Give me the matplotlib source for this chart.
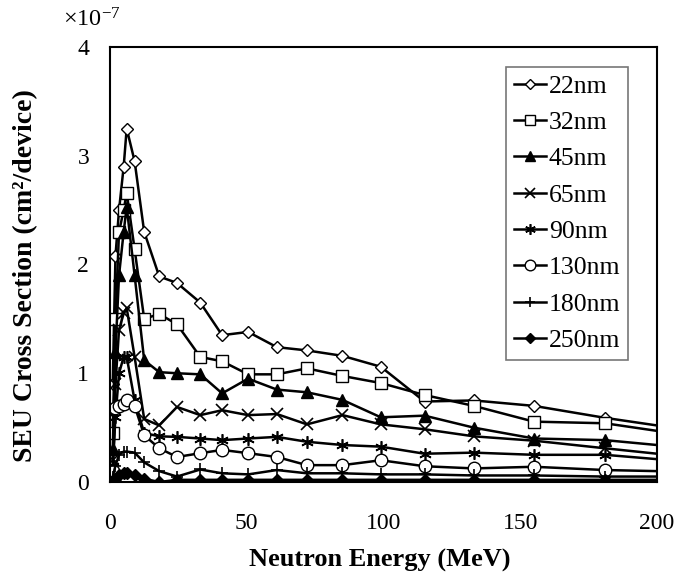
import matplotlib
matplotlib.use('Agg')
import matplotlib.pyplot as plt

plt.rcParams['font.family'] = ['Liberation Serif', 'DejaVu Serif']
plt.rcParams['mathtext.fontset'] = 'custom'
plt.rcParams['mathtext.rm'] = 'Liberation Serif'
plt.rcParams['mathtext.it'] = 'Liberation Serif:italic'
plt.rcParams['mathtext.bf'] = 'Liberation Serif:bold'

# Neutron energy (MeV)
energy = [1, 2, 3.3, 5, 6.1, 9, 12.5, 18, 24.5, 33, 41, 50.5, 61, 72, 85, 99,
          115, 133, 155, 181, 200]

# SEU cross section, units of 1e-7 cm^2/device
s22 = [0.9, 2.08, 2.5, 2.9, 3.25, 2.95, 2.30, 1.89, 1.83, 1.65, 1.35, 1.38, 1.24,
       1.21, 1.16, 1.06, 0.74, 0.75, 0.70, 0.59, 0.52]
s32 = [0.45, 1.5, 2.30, 2.5, 2.66, 2.14, 1.50, 1.545, 1.45, 1.15, 1.11, 0.99, 0.99,
       1.045, 0.975, 0.91, 0.80, 0.70, 0.555, 0.54, 0.47]
s45 = [0.3, 1.2, 1.9, 2.3, 2.53, 1.9, 1.12, 1.01, 1.0, 0.99, 0.815, 0.95, 0.85,
       0.825, 0.755, 0.595, 0.61, 0.50, 0.40, 0.385, 0.34]
s65 = [0.2, 0.9, 1.4, 1.55, 1.6, 1.15, 0.58, 0.52, 0.69, 0.615, 0.66, 0.615, 0.625,
       0.53, 0.615, 0.53, 0.485, 0.42, 0.38, 0.31, 0.26]
s90 = [0.15, 0.6, 1.0, 1.15, 1.15, 0.75, 0.45, 0.42, 0.415, 0.40, 0.385, 0.40, 0.415,
       0.37, 0.34, 0.325, 0.26, 0.27, 0.25, 0.25, 0.21]
s130 = [0.1, 0.68, 0.7, 0.72, 0.75, 0.70, 0.43, 0.31, 0.23, 0.265, 0.295, 0.265, 0.23,
        0.155, 0.155, 0.20, 0.145, 0.125, 0.14, 0.11, 0.10]
s180 = [0.05, 0.15, 0.25, 0.28, 0.28, 0.27, 0.18, 0.10, 0.05, 0.115, 0.08, 0.07, 0.11,
        0.08, 0.08, 0.07, 0.07, 0.06, 0.06, 0.05, 0.05]
s250 = [0.0, 0.03, 0.06, 0.08, 0.08, 0.06, 0.03, 0.0, 0.02, 0.02, 0.02, 0.02, 0.02,
        0.02, 0.02, 0.02, 0.02, 0.02, 0.02, 0.02, 0.02]

labels = ['22nm', '32nm', '45nm', '65nm', '90nm', '130nm', '180nm', '250nm']
series = [s22, s32, s45, s65, s90, s130, s180, s250]

styles = [
    dict(marker='D', ms=6, mfc='white'),
    dict(marker='s', ms=9, mfc='white'),
    dict(marker='^', ms=8, mfc='black'),
    dict(marker='x', ms=8, mew=1.2),
    dict(marker=(6, 2, 0), ms=9, mew=1.2),
    dict(marker='o', ms=9, mfc='white'),
    dict(marker='+', ms=9, mew=1.2),
    dict(marker='D', ms=6, mfc='black'),
]

fig = plt.figure(figsize=(6.93, 5.76), dpi=100)
ax = fig.add_axes([110/693, 1-482/576, 547/693, 435/576])

mk = slice(0, len(energy) - 1)
for lab, ys, st in zip(labels, series, styles):
    ax.plot(energy, ys, color='black', lw=1.8, mec='black', label=lab,
            markevery=mk, clip_on=True, **st)

ax.set_xlim(0, 200)
ax.set_ylim(0, 4)
ax.set_xticks([0, 50, 100, 150, 200])
ax.set_yticks([0, 1, 2, 3, 4])
ax.tick_params(length=0, labelsize=17)
ax.tick_params(axis='x', pad=22)
ax.tick_params(axis='y', pad=15)
for sp in ax.spines.values():
    sp.set_linewidth(1.5)
    sp.set_color('black')

ax.set_xlabel('Neutron Energy (MeV)', fontsize=19, fontweight='bold')
ax.xaxis.set_label_coords(0.494, -0.18)
ax.xaxis.label.set_va('center')
ax.set_ylabel('SEU Cross Section (cm²/device)', fontsize=20, fontweight='bold')
ax.yaxis.set_label_coords(-0.155, 0.475)
ax.yaxis.label.set_va('center')
fig.text(63/693, 1-20/576, r'$\times$10$^{-7}$', fontsize=17.5, ha='left', va='center')

leg = ax.legend(loc='upper right', bbox_to_anchor=(0.947, 0.954), borderaxespad=0,
                fontsize=18.5, handlelength=1.25, handletextpad=0.1, labelspacing=0.52,
                fancybox=False, framealpha=1, edgecolor='#777777', borderpad=0.3,
                markerscale=0.85)
leg.get_frame().set_linewidth(1.2)

fig.savefig('out.png', dpi=100, facecolor='white')
